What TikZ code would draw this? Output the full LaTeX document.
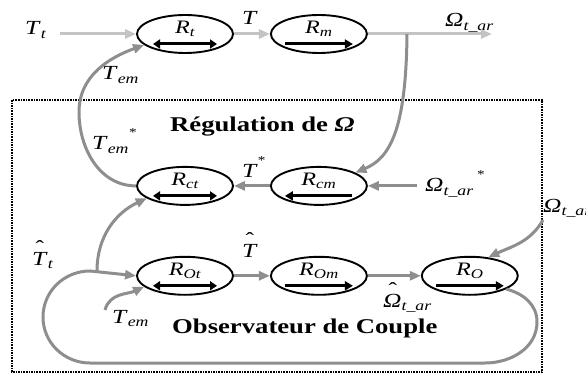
\documentclass[tikz,border=0pt]{standalone}
\usepackage{fontspec}
\setmainfont{Liberation Serif}[FakeStretch=1.27]
\usepackage{tikz}
\usetikzlibrary{arrows.meta,positioning,shapes.geometric}
\definecolor{FlowLight}{HTML}{C4C4C4}
\definecolor{FlowDark}{HTML}{8E8E8E}
\newcommand{\sym}[2]{\textit{#1}\textsubscript{\textit{#2}}}
\newcommand{\hsym}[2][3.5pt]{\makebox[0pt][l]{\hspace{#1}\raisebox{11pt}{ˆ}}\textit{#2}}
\newcommand{\starmark}{\raisebox{13pt}{\fontsize{12}{12}\selectfont *}}

\begin{document}
\begin{tikzpicture}[x=1pt,y=-1pt,
  block/.style={ellipse,draw,line width=1.9pt,minimum width=96pt,minimum height=38pt,inner sep=0pt,text height=0pt,text depth=0pt,font=\fontsize{19}{21}\selectfont\itshape},
  twoway/.style={block,path picture={\draw[line width=3pt,{Triangle[length=7pt,width=9pt]}-{Triangle[length=7pt,width=9pt]}] ([xshift=-32pt,yshift=-10pt]path picture bounding box.center) -- ([xshift=32pt,yshift=-10pt]path picture bounding box.center);}},
  forward/.style={block,path picture={\draw[line width=3pt,-{Triangle[length=8pt,width=9pt]}] ([xshift=-34pt,yshift=-10pt]path picture bounding box.center) -- ([xshift=34pt,yshift=-10pt]path picture bounding box.center);}},
  backward/.style={block,path picture={\draw[line width=3pt,-{Triangle[length=8pt,width=9pt]}] ([xshift=33pt,yshift=-10pt]path picture bounding box.center) -- ([xshift=-34pt,yshift=-10pt]path picture bounding box.center);}},
  lbl/.style={inner sep=0pt,anchor=base west,font=\fontsize{20}{22}\selectfont},
  heading/.style={inner sep=0pt,anchor=base west,font=\fontsize{21}{24}\selectfont\bfseries},
  lightflow/.style={-{Triangle[length=11pt,width=9pt]},line width=3pt,FlowLight},
  darkflow/.style={-{Triangle[length=11pt,width=9pt]},line width=3pt,FlowDark},
  frame/.style={densely dotted,line width=1.6pt},
]
\useasboundingbox (0,0) rectangle (586,374);

% blocks
\node[twoway] (rt) at (185,34) {\sym{R}{t}};
\node[forward,right=36pt of rt] (rm) {\sym{R}{m}};
\node[twoway,below=112pt of rt] (rct) {\sym{R}{ct}};
\node[backward,right=36pt of rct] (rcm) {\sym{R}{cm}};
\node[twoway,below=50pt of rct] (rot) {\sym{R}{Ot}};
\node[forward,right=36pt of rot] (rom) {\sym{R}{Om}};
\node[forward,right=53pt of rom] (ro) {\sym{R}{O}};

% frame and titles
\draw[frame] (12,100) rectangle (542,372);
\node[heading] (reg) at (170,132) {Régulation de \textit{Ω}};
\node[heading] (obs) at (172,333) {Observateur de Couple};

% labels
\node[lbl] (tt) at (25,35) {\sym{T}{t}};
\node[lbl] (tmid) at (242,25) {\textit{T}};
\node[lbl] (omout) at (445,27) {\sym{Ω}{t\_ar}};
\node[lbl] (tem) at (102,80) {\sym{T}{em}};
\node[lbl] (temstar) at (92,150) {\sym{T}{em}\starmark};
\node[lbl] (tstar) at (242,178) {\textit{T}\starmark};
\node[lbl] (omstar) at (425,192) {\sym{Ω}{t\_ar}\,\starmark};
\node[lbl] (omobs) at (543,212) {\sym{Ω}{t\_ar}};
\node[lbl] (thatt) at (32,265) {\hsym{T}\textsubscript{\textit{t}}};
\node[lbl] (that) at (242,257) {\hsym{T}};
\node[lbl] (omhat) at (383,307) {\hsym[5.5pt]{Ω}\textsubscript{\textit{t\_ar}}};
\node[lbl] (temobs) at (112,323) {\sym{T}{em}};

% helper points
\coordinate (tin) at (60,34);
\coordinate (omend) at (492,34);
\coordinate (tap) at (407,34);
\coordinate (tembend) at (79,112);
\coordinate (obstap) at (97,271);
\coordinate (loopE) at (537,322);
\coordinate (loopSE) at (485,363);
\coordinate (loopSW) at (90,363);
\coordinate (loopW) at (43,317);
\coordinate (loopNW) at (90,271);
\coordinate (temin) at (105,310);
\coordinate (omin) at (543,220);

% process
\draw[lightflow] (tin) -- (rt);
\draw[lightflow] (rt) -- (rm);
\draw[lightflow] (rm) -- (omend);

% speed regulation
\draw[darkflow] (tap) .. controls (406,130) and (390,158) .. (rcm.20);
\draw[darkflow] (rct.west) to[out=180,in=-90] (tembend) to[out=90,in=200] (rt.195);
\draw[darkflow] ([xshift=-8pt]omstar.west |- rcm.east) -- (rcm.east);
\draw[darkflow] (rcm) -- (rct);

% torque observer
\draw[darkflow] (obstap) to[out=90,in=205] (rct.198);
\draw[darkflow] (ro.-20) to[out=-15,in=90] (loopE) to[out=-90,in=0] (loopSE) -- (loopSW)
  to[out=180,in=-90] (loopW) to[out=90,in=180] (loopNW) -- (rot.west);
\draw[darkflow] (temin) to[out=75,in=205] (rot.195);
\draw[darkflow] (rot) -- (rom);
\draw[darkflow] (rom) -- (ro);
\draw[darkflow] (omin) to[out=-120,in=25] (ro.45);
\end{tikzpicture}
\end{document}
